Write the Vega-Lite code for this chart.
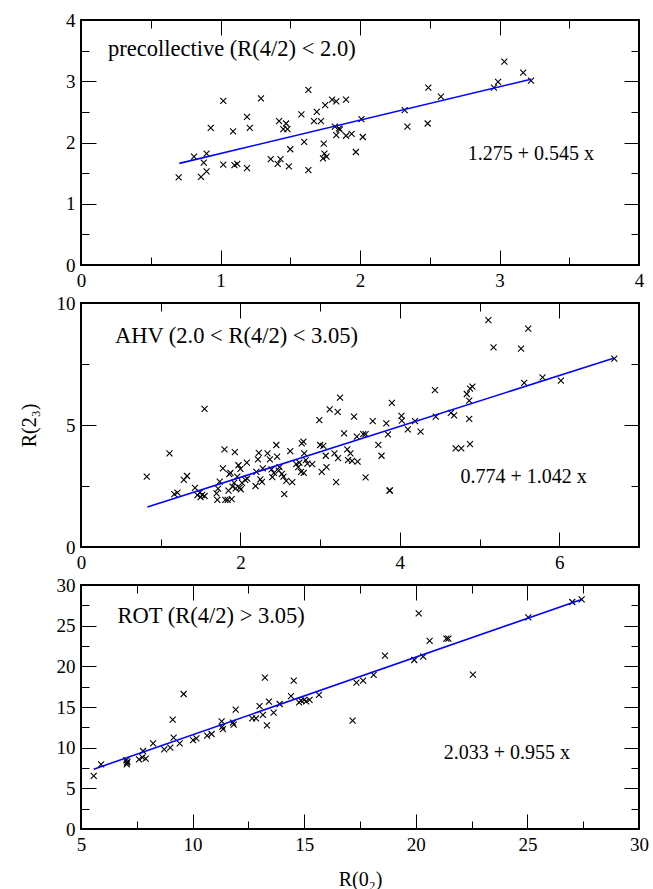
{
"$schema": "https://vega.github.io/schema/vega-lite/v6.json",
"background": "white",
"padding": {"left": 18, "top": 10, "right": 10, "bottom": 5},
"spacing": 38,
"bounds": "flush",
"config": {
  "font": "Liberation Serif",
  "text": {"font": "Liberation Serif"},
  "view": {"stroke": "black", "strokeWidth": 2},
  "axis": {"grid": false, "domain": false, "tickColor": "black", "tickWidth": 1, "labelFontSize": 19, "labelColor": "black", "labelFont": "Liberation Serif", "labelFlush": false, "labelOverlap": false, "titleFont": "Liberation Serif", "titleFontSize": 20, "titleFontWeight": "normal", "titleColor": "black"}
},
"datasets": {
  "p1": [{"x":0.70,"y":1.43},{"x":0.81,"y":1.77},{"x":0.86,"y":1.44},{"x":0.88,"y":1.67},{"x":0.90,"y":1.82},{"x":0.90,"y":1.53},{"x":0.93,"y":2.24},{"x":1.02,"y":2.68},{"x":1.02,"y":1.64},{"x":1.09,"y":2.18},{"x":1.10,"y":1.63},{"x":1.12,"y":1.65},{"x":1.19,"y":2.42},{"x":1.19,"y":1.58},{"x":1.21,"y":2.24},{"x":1.29,"y":2.72},{"x":1.36,"y":1.73},{"x":1.41,"y":1.65},{"x":1.43,"y":1.73},{"x":1.42,"y":2.35},{"x":1.47,"y":2.31},{"x":1.45,"y":2.22},{"x":1.48,"y":2.22},{"x":1.49,"y":1.61},{"x":1.50,"y":1.89},{"x":1.58,"y":2.46},{"x":1.60,"y":2.01},{"x":1.63,"y":2.86},{"x":1.63,"y":1.55},{"x":1.67,"y":2.35},{"x":1.69,"y":2.50},{"x":1.72,"y":2.35},{"x":1.735,"y":1.74},{"x":1.74,"y":1.98},{"x":1.745,"y":1.82},{"x":1.75,"y":2.61},{"x":1.76,"y":1.77},{"x":1.80,"y":2.70},{"x":1.83,"y":2.67},{"x":1.82,"y":2.26},{"x":1.83,"y":2.12},{"x":1.85,"y":2.23},{"x":1.855,"y":2.21},{"x":1.90,"y":2.70},{"x":1.90,"y":2.11},{"x":1.94,"y":2.14},{"x":1.97,"y":1.845},{"x":2.01,"y":2.38},{"x":2.02,"y":2.09},{"x":2.32,"y":2.53},{"x":2.34,"y":2.26},{"x":2.49,"y":2.895},{"x":2.485,"y":2.31},{"x":2.58,"y":2.75},{"x":2.96,"y":2.895},{"x":2.99,"y":2.99},{"x":3.035,"y":3.32},{"x":3.17,"y":3.14},{"x":3.226,"y":3.01}],
  "p2": [{"x":0.825,"y":2.88},{"x":1.11,"y":3.84},{"x":1.55,"y":5.66},{"x":1.17,"y":2.17},{"x":1.21,"y":2.23},{"x":1.29,"y":2.75},{"x":1.33,"y":2.91},{"x":1.43,"y":2.42},{"x":1.46,"y":2.13},{"x":1.50,"y":2.04},{"x":1.52,"y":2.14},{"x":1.55,"y":2.09},{"x":1.49,"y":2.23},{"x":1.70,"y":2.20},{"x":1.71,"y":1.93},{"x":1.72,"y":2.39},{"x":1.74,"y":2.68},{"x":1.78,"y":3.22},{"x":1.80,"y":4.00},{"x":1.81,"y":1.93},{"x":1.84,"y":1.93},{"x":1.85,"y":2.31},{"x":1.86,"y":2.99},{"x":1.875,"y":3.04},{"x":1.89,"y":1.96},{"x":1.90,"y":2.47},{"x":1.92,"y":2.63},{"x":1.93,"y":3.89},{"x":1.94,"y":2.40},{"x":1.96,"y":2.88},{"x":1.975,"y":3.35},{"x":1.99,"y":2.43},{"x":2.00,"y":3.20},{"x":2.005,"y":2.36},{"x":2.02,"y":2.63},{"x":2.06,"y":2.75},{"x":2.08,"y":3.46},{"x":2.085,"y":2.80},{"x":2.19,"y":2.50},{"x":2.20,"y":3.08},{"x":2.22,"y":3.59},{"x":2.23,"y":3.86},{"x":2.25,"y":2.77},{"x":2.27,"y":2.67},{"x":2.28,"y":3.22},{"x":2.34,"y":3.84},{"x":2.37,"y":3.59},{"x":2.39,"y":3.18},{"x":2.40,"y":2.86},{"x":2.42,"y":3.04},{"x":2.45,"y":4.18},{"x":2.46,"y":3.70},{"x":2.48,"y":3.13},{"x":2.49,"y":3.27},{"x":2.52,"y":3.00},{"x":2.54,"y":2.88},{"x":2.55,"y":2.17},{"x":2.575,"y":2.71},{"x":2.625,"y":3.93},{"x":2.65,"y":2.66},{"x":2.70,"y":3.40},{"x":2.725,"y":3.27},{"x":2.74,"y":3.46},{"x":2.76,"y":3.08},{"x":2.77,"y":4.25},{"x":2.79,"y":4.32},{"x":2.795,"y":3.04},{"x":2.80,"y":3.84},{"x":2.82,"y":3.56},{"x":2.84,"y":3.42},{"x":2.90,"y":3.40},{"x":2.99,"y":5.20},{"x":3.00,"y":4.18},{"x":3.02,"y":3.08},{"x":3.04,"y":4.14},{"x":3.07,"y":3.74},{"x":3.08,"y":3.27},{"x":3.12,"y":5.64},{"x":3.18,"y":3.84},{"x":3.20,"y":2.66},{"x":3.22,"y":5.54},{"x":3.225,"y":3.64},{"x":3.25,"y":6.12},{"x":3.30,"y":4.66},{"x":3.34,"y":4.00},{"x":3.35,"y":3.56},{"x":3.38,"y":3.84},{"x":3.40,"y":3.53},{"x":3.425,"y":5.34},{"x":3.46,"y":4.52},{"x":3.47,"y":3.50},{"x":3.54,"y":4.63},{"x":3.57,"y":4.63},{"x":3.57,"y":2.85},{"x":3.66,"y":5.16},{"x":3.73,"y":4.19},{"x":3.77,"y":3.74},{"x":3.83,"y":5.07},{"x":3.85,"y":4.62},{"x":3.87,"y":2.31},{"x":3.875,"y":2.32},{"x":3.90,"y":5.91},{"x":4.02,"y":5.37},{"x":4.025,"y":5.18},{"x":4.10,"y":4.82},{"x":4.19,"y":5.16},{"x":4.26,"y":4.73},{"x":4.44,"y":6.43},{"x":4.45,"y":5.34},{"x":4.64,"y":5.50},{"x":4.68,"y":5.39},{"x":4.70,"y":4.04},{"x":4.77,"y":4.04},{"x":4.84,"y":6.27},{"x":4.87,"y":6.00},{"x":4.87,"y":5.25},{"x":4.88,"y":4.22},{"x":4.88,"y":6.49},{"x":4.91,"y":6.57},{"x":5.11,"y":9.30},{"x":5.175,"y":8.18},{"x":5.52,"y":8.13},{"x":5.56,"y":6.73},{"x":5.61,"y":8.95},{"x":5.79,"y":6.95},{"x":6.02,"y":6.82},{"x":6.69,"y":7.72}],
  "p3": [{"x":5.57,"y":6.52},{"x":5.90,"y":7.95},{"x":7.03,"y":8.48},{"x":7.05,"y":7.95},{"x":7.08,"y":8.28},{"x":7.06,"y":8.15},{"x":7.60,"y":8.57},{"x":7.75,"y":8.80},{"x":7.78,"y":9.59},{"x":7.90,"y":8.65},{"x":8.23,"y":10.54},{"x":8.73,"y":9.80},{"x":9.00,"y":10.0},{"x":9.11,"y":13.44},{"x":9.15,"y":11.23},{"x":9.42,"y":10.54},{"x":9.60,"y":16.6},{"x":10.02,"y":10.94},{"x":10.17,"y":11.15},{"x":10.65,"y":11.47},{"x":10.85,"y":11.68},{"x":11.30,"y":13.24},{"x":11.33,"y":12.6},{"x":11.36,"y":12.27},{"x":11.81,"y":13.07},{"x":11.84,"y":12.83},{"x":11.93,"y":14.67},{"x":12.67,"y":13.6},{"x":12.84,"y":13.6},{"x":13.0,"y":15.12},{"x":13.15,"y":14.02},{"x":13.24,"y":18.6},{"x":13.33,"y":12.75},{"x":13.42,"y":15.65},{"x":13.63,"y":14.3},{"x":13.9,"y":15.37},{"x":14.41,"y":16.35},{"x":14.53,"y":18.24},{"x":14.77,"y":15.57},{"x":14.86,"y":15.8},{"x":15.0,"y":15.88},{"x":15.09,"y":15.7},{"x":15.24,"y":15.88},{"x":15.66,"y":16.48},{"x":17.17,"y":13.32},{"x":17.34,"y":17.99},{"x":17.64,"y":18.24},{"x":18.11,"y":18.94},{"x":18.62,"y":21.31},{"x":19.93,"y":20.78},{"x":20.13,"y":26.52},{"x":20.33,"y":21.19},{"x":20.62,"y":23.12},{"x":21.37,"y":23.4},{"x":21.46,"y":23.4},{"x":22.56,"y":18.97},{"x":25.04,"y":26.03},{"x":27.01,"y":27.91},{"x":27.43,"y":28.24}],
  "l1": [{"x":0.705,"y":1.659},{"x":3.226,"y":3.033}],
  "l2": [{"x":0.833,"y":1.642},{"x":6.69,"y":7.745}],
  "l3": [{"x":5.57,"y":7.352},{"x":27.43,"y":28.229}]
},
"vconcat": [
  {
    "width": 558, "height": 245,
    "resolve": {"axis": {"x": "independent", "y": "independent"}},
    "layer": [
      {"data": {"name": "p1"},
       "mark": {"type": "point", "shape": "M-1,-1L1,1M-1,1L1,-1", "filled": false, "stroke": "black", "strokeWidth": 1.1, "size": 36, "opacity": 1},
       "encoding": {
         "x": {"field": "x", "type": "quantitative", "scale": {"domain": [0, 4], "nice": false, "zero": false}, "axis": {"orient": "bottom", "values": [0,1,2,3,4], "tickSize": -15, "labelPadding": 21, "title": null}},
         "y": {"field": "y", "type": "quantitative", "scale": {"domain": [0, 4], "nice": false, "zero": false}, "axis": {"orient": "left", "values": [0,1,2,3,4], "tickSize": -15, "labelPadding": 21, "title": null}}
       }},
      {"data": {"name": "l1"},
       "mark": {"type": "line", "color": "#0000ff", "strokeWidth": 1.6},
       "encoding": {
         "x": {"field": "x", "type": "quantitative", "axis": {"orient": "bottom", "values": [0.5,1.5,2.5,3.5], "tickSize": -8, "labels": false, "title": null}},
         "y": {"field": "y", "type": "quantitative", "axis": {"orient": "left", "values": [0.5,1.5,2.5,3.5], "tickSize": -8, "labels": false, "title": null}}
       }},
      {"data": {"values": [{"t": "precollective (R(4/2) < 2.0)"}]},
       "mark": {"type": "text", "align": "left", "baseline": "alphabetic", "fontSize": 22.5, "font": "Liberation Serif", "color": "black"},
       "encoding": {
         "x": {"datum": 0.194, "type": "quantitative", "axis": {"orient": "top", "values": [0,1,2,3,4], "tickSize": -15, "labels": false, "title": null}},
         "y": {"datum": 3.41, "type": "quantitative", "axis": {"orient": "right", "values": [0,1,2,3,4], "tickSize": -15, "labels": false, "title": null}},
         "text": {"field": "t"}
       }},
      {"data": {"values": [{"t": "1.275 + 0.545 x"}]},
       "mark": {"type": "text", "align": "left", "baseline": "alphabetic", "fontSize": 20, "font": "Liberation Serif", "color": "black"},
       "encoding": {
         "x": {"datum": 2.772, "type": "quantitative", "axis": {"orient": "top", "values": [0.5,1.5,2.5,3.5], "tickSize": -8, "labels": false, "title": null}},
         "y": {"datum": 1.714, "type": "quantitative", "axis": {"orient": "right", "values": [0.5,1.5,2.5,3.5], "tickSize": -8, "labels": false, "title": null}},
         "text": {"field": "t"}
       }}
    ]
  },
  {
    "width": 558, "height": 244,
    "resolve": {"axis": {"x": "independent", "y": "independent"}},
    "layer": [
      {"data": {"name": "p2"},
       "mark": {"type": "point", "shape": "M-1,-1L1,1M-1,1L1,-1", "filled": false, "stroke": "black", "strokeWidth": 1.1, "size": 36, "opacity": 1},
       "encoding": {
         "x": {"field": "x", "type": "quantitative", "scale": {"domain": [0, 7], "nice": false, "zero": false}, "axis": {"orient": "bottom", "values": [0,2,4,6], "tickSize": -15, "labelPadding": 21, "title": null}},
         "y": {"field": "y", "type": "quantitative", "scale": {"domain": [0, 10], "nice": false, "zero": false}, "axis": {"orient": "left", "values": [0,5,10], "tickSize": -15, "labelPadding": 21, "title": "R(2₃)", "titleAngle": -90, "titleX": -52, "titleY": 122, "titleAlign": "center", "titleBaseline": "middle"}}
       }},
      {"data": {"name": "l2"},
       "mark": {"type": "line", "color": "#0000ff", "strokeWidth": 1.6},
       "encoding": {
         "x": {"field": "x", "type": "quantitative", "axis": {"orient": "bottom", "values": [1,3,5], "tickSize": -8, "labels": false, "title": null}},
         "y": {"field": "y", "type": "quantitative", "axis": {"orient": "left", "values": [2.5,7.5], "tickSize": -8, "labels": false, "title": null}}
       }},
      {"data": {"values": [{"t": "AHV (2.0 < R(4/2) < 3.05)"}]},
       "mark": {"type": "text", "align": "left", "baseline": "alphabetic", "fontSize": 22.5, "font": "Liberation Serif", "color": "black"},
       "encoding": {
         "x": {"datum": 0.425, "type": "quantitative", "axis": {"orient": "top", "values": [0,2,4,6], "tickSize": -15, "labels": false, "title": null}},
         "y": {"datum": 8.37, "type": "quantitative", "axis": {"orient": "right", "values": [0,5,10], "tickSize": -15, "labels": false, "title": null}},
         "text": {"field": "t"}
       }},
      {"data": {"values": [{"t": "0.774 + 1.042 x"}]},
       "mark": {"type": "text", "align": "left", "baseline": "alphabetic", "fontSize": 20, "font": "Liberation Serif", "color": "black"},
       "encoding": {
         "x": {"datum": 4.76, "type": "quantitative", "axis": {"orient": "top", "values": [1,3,5], "tickSize": -8, "labels": false, "title": null}},
         "y": {"datum": 2.61, "type": "quantitative", "axis": {"orient": "right", "values": [2.5,7.5], "tickSize": -8, "labels": false, "title": null}},
         "text": {"field": "t"}
       }}
    ]
  },
  {
    "width": 558, "height": 244,
    "resolve": {"axis": {"x": "independent", "y": "independent"}},
    "layer": [
      {"data": {"name": "p3"},
       "mark": {"type": "point", "shape": "M-1,-1L1,1M-1,1L1,-1", "filled": false, "stroke": "black", "strokeWidth": 1.1, "size": 36, "opacity": 1},
       "encoding": {
         "x": {"field": "x", "type": "quantitative", "scale": {"domain": [5, 30], "nice": false, "zero": false}, "axis": {"orient": "bottom", "values": [5,10,15,20,25,30], "tickSize": -15, "labelPadding": 21, "title": "R(0₂)", "titleX": 279, "titleY": 56, "titleAlign": "center", "titleBaseline": "alphabetic"}},
         "y": {"field": "y", "type": "quantitative", "scale": {"domain": [0, 30], "nice": false, "zero": false}, "axis": {"orient": "left", "values": [0,5,10,15,20,25,30], "tickSize": -15, "labelPadding": 21, "title": null}}
       }},
      {"data": {"name": "l3"},
       "mark": {"type": "line", "color": "#0000ff", "strokeWidth": 1.6},
       "encoding": {
         "x": {"field": "x", "type": "quantitative", "axis": {"orient": "bottom", "values": [7.5,12.5,17.5,22.5,27.5], "tickSize": -8, "labels": false, "title": null}},
         "y": {"field": "y", "type": "quantitative", "axis": {"orient": "left", "values": [2.5,7.5,12.5,17.5,22.5,27.5], "tickSize": -8, "labels": false, "title": null}}
       }},
      {"data": {"values": [{"t": "ROT (R(4/2) > 3.05)"}]},
       "mark": {"type": "text", "align": "left", "baseline": "alphabetic", "fontSize": 22.5, "font": "Liberation Serif", "color": "black"},
       "encoding": {
         "x": {"datum": 6.64, "type": "quantitative", "axis": {"orient": "top", "values": [5,10,15,20,25,30], "tickSize": -15, "labels": false, "title": null}},
         "y": {"datum": 25.37, "type": "quantitative", "axis": {"orient": "right", "values": [0,5,10,15,20,25,30], "tickSize": -15, "labels": false, "title": null}},
         "text": {"field": "t"}
       }},
      {"data": {"values": [{"t": "2.033 + 0.955 x"}]},
       "mark": {"type": "text", "align": "left", "baseline": "alphabetic", "fontSize": 20, "font": "Liberation Serif", "color": "black"},
       "encoding": {
         "x": {"datum": 21.25, "type": "quantitative", "axis": {"orient": "top", "values": [7.5,12.5,17.5,22.5,27.5], "tickSize": -8, "labels": false, "title": null}},
         "y": {"datum": 8.57, "type": "quantitative", "axis": {"orient": "right", "values": [2.5,7.5,12.5,17.5,22.5,27.5], "tickSize": -8, "labels": false, "title": null}},
         "text": {"field": "t"}
       }}
    ]
  }
]
}
